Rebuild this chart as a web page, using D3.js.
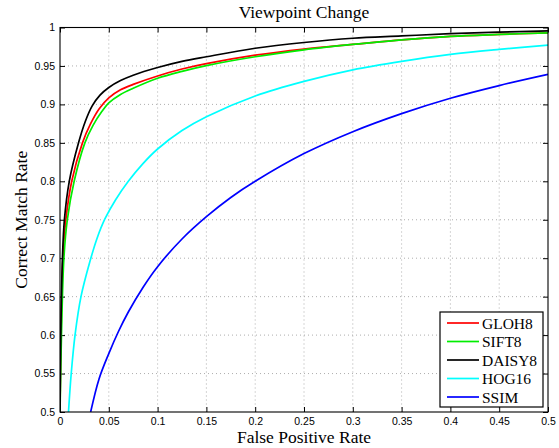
<!DOCTYPE html>
<html>
<head>
<meta charset="utf-8">
<script src="https://cdn.jsdelivr.net/npm/d3@7"></script>
<style>
html,body{margin:0;padding:0;background:#fff;}
svg{display:block;}
</style>
</head>
<body>
<svg id="chart" width="559" height="448"></svg>
<script>
// ---- data ----
const seriesNames = ["GLOH8", "SIFT8", "DAISY8", "HOG16", "SSIM"];
const seriesColors = ["#ff0000", "#00ee00", "#000000", "#00ffff", "#0000ff"];

const glohFpr = [0, 0.001, 0.003, 0.006, 0.012, 0.023, 0.031, 0.04, 0.05, 0.062, 0.075, 0.1, 0.125, 0.15, 0.2, 0.25, 0.3, 0.35, 0.4, 0.45, 0.5];
const glohTpr = [0.5, 0.6, 0.7, 0.75, 0.8, 0.85, 0.874, 0.894, 0.9085, 0.919, 0.926, 0.937, 0.946, 0.953, 0.964, 0.972, 0.978, 0.984, 0.9885, 0.991, 0.993];

const siftFpr = [0, 0.0015, 0.004, 0.0075, 0.0145, 0.0255, 0.034, 0.043, 0.05, 0.062, 0.075, 0.1, 0.125, 0.15, 0.2, 0.25, 0.3, 0.35, 0.4, 0.45, 0.5];
const siftTpr = [0.5, 0.6, 0.7, 0.75, 0.8, 0.85, 0.873, 0.891, 0.902, 0.913, 0.921, 0.934, 0.943, 0.9505, 0.962, 0.971, 0.978, 0.984, 0.9885, 0.991, 0.993];

const daisyFpr = [0, 0.0008, 0.0025, 0.0045, 0.0095, 0.019, 0.026, 0.033, 0.041, 0.05, 0.062, 0.075, 0.1, 0.125, 0.15, 0.2, 0.25, 0.3, 0.35, 0.4, 0.45, 0.5];
const daisyTpr = [0.5, 0.6, 0.7, 0.75, 0.8, 0.85, 0.878, 0.898, 0.912, 0.922, 0.931, 0.938, 0.948, 0.956, 0.962, 0.973, 0.9805, 0.986, 0.989, 0.992, 0.994, 0.9955];

const hogFpr = [0.0087, 0.0115, 0.0154, 0.0215, 0.0305, 0.038, 0.046, 0.057, 0.07, 0.085, 0.1, 0.125, 0.15, 0.2, 0.25, 0.3, 0.35, 0.4, 0.45, 0.5];
const hogTpr = [0.5, 0.55, 0.6, 0.65, 0.695, 0.726, 0.751, 0.776, 0.8, 0.823, 0.842, 0.866, 0.884, 0.911, 0.930, 0.945, 0.956, 0.965, 0.9715, 0.977];

const ssimFpr = [0.0314, 0.04, 0.05, 0.06, 0.07, 0.085, 0.1, 0.125, 0.15, 0.175, 0.2, 0.25, 0.3, 0.35, 0.4, 0.45, 0.5];
const ssimTpr = [0.5, 0.543, 0.576, 0.605, 0.63, 0.662, 0.689, 0.725, 0.754, 0.779, 0.8, 0.836, 0.8645, 0.888, 0.908, 0.9245, 0.939];

const xTicks = [0, 0.05, 0.1, 0.15, 0.2, 0.25, 0.3, 0.35, 0.4, 0.45, 0.5];
const yTicks = [0.5, 0.55, 0.6, 0.65, 0.7, 0.75, 0.8, 0.85, 0.9, 0.95, 1];

const titleText = "Viewpoint Change";
const xLabelText = "False Positive Rate";
const yLabelText = "Correct Match Rate";

// ---- layout ----
const plot = {left: 60, right: 548, top: 27.5, bottom: 412};
const serif = "'Liberation Serif','Times New Roman',serif";
const sans = "'Liberation Sans',Arial,Helvetica,sans-serif";

const svg = d3.select("#chart");
const x = d3.scaleLinear().domain([0, 0.5]).range([plot.left, plot.right]);
const y = d3.scaleLinear().domain([0.5, 1]).range([plot.bottom, plot.top]);

const series = [
  {fpr: glohFpr, tpr: glohTpr},
  {fpr: siftFpr, tpr: siftTpr},
  {fpr: daisyFpr, tpr: daisyTpr},
  {fpr: hogFpr, tpr: hogTpr},
  {fpr: ssimFpr, tpr: ssimTpr}
].map((s, i) => ({
  name: seriesNames[i],
  color: seriesColors[i],
  points: s.fpr.map((f, j) => [f, s.tpr[j]])
}));

// clip
svg.append("defs").append("clipPath").attr("id", "clip")
  .append("rect")
  .attr("x", plot.left).attr("y", plot.top)
  .attr("width", plot.right - plot.left).attr("height", plot.bottom - plot.top);

// grid
const grid = svg.append("g").attr("class", "grid");
grid.selectAll("line.vx").data(xTicks.slice(1, -1)).enter().append("line")
  .attr("x1", d => x(d)).attr("x2", d => x(d))
  .attr("y1", plot.top).attr("y2", plot.bottom)
  .attr("stroke", "#999").attr("stroke-width", 0.8).attr("stroke-dasharray", "1,3");
grid.selectAll("line.hy").data(yTicks.slice(1, -1)).enter().append("line")
  .attr("y1", d => y(d)).attr("y2", d => y(d))
  .attr("x1", plot.left).attr("x2", plot.right)
  .attr("stroke", "#999").attr("stroke-width", 0.8).attr("stroke-dasharray", "1,3");

// axes (ticks inward)
const tickLen = 5;
const axisFont = (g) => g.selectAll("text").attr("font-family", sans).attr("font-size", "10.5px").attr("fill", "#000");
const fmt = d => String(+d.toFixed(2));

const xAxis = svg.append("g").attr("transform", `translate(0,${plot.bottom})`)
  .call(d3.axisBottom(x).tickValues(xTicks).tickFormat(fmt).tickSizeInner(-tickLen).tickSizeOuter(0).tickPadding(6));
xAxis.call(axisFont);
xAxis.select(".domain").remove();

const xAxisTop = svg.append("g").attr("transform", `translate(0,${plot.top})`)
  .call(d3.axisTop(x).tickValues(xTicks).tickFormat("").tickSizeInner(-tickLen).tickSizeOuter(0));
xAxisTop.select(".domain").remove();

const yAxis = svg.append("g").attr("transform", `translate(${plot.left},0)`)
  .call(d3.axisLeft(y).tickValues(yTicks).tickFormat(fmt).tickSizeInner(-tickLen).tickSizeOuter(0).tickPadding(5));
yAxis.call(axisFont);
yAxis.select(".domain").remove();

const yAxisRight = svg.append("g").attr("transform", `translate(${plot.right},0)`)
  .call(d3.axisRight(y).tickValues(yTicks).tickFormat("").tickSizeInner(-tickLen).tickSizeOuter(0));
yAxisRight.select(".domain").remove();

svg.selectAll(".tick line").attr("stroke", "#000").attr("stroke-width", 1);

// curves
const line = d3.line().x(d => x(d[0])).y(d => y(d[1])).curve(d3.curveCatmullRom.alpha(0.5));
svg.append("g").attr("clip-path", "url(#clip)")
  .selectAll("path").data(series).enter().append("path")
  .attr("d", d => line(d.points))
  .attr("fill", "none")
  .attr("stroke", d => d.color)
  .attr("stroke-width", 1.7)
  .attr("stroke-linejoin", "round");

// frame
svg.append("rect")
  .attr("x", plot.left).attr("y", plot.top)
  .attr("width", plot.right - plot.left).attr("height", plot.bottom - plot.top)
  .attr("fill", "none").attr("stroke", "#000").attr("stroke-width", 1.1);

// title & labels
svg.append("text").attr("x", (plot.left + plot.right) / 2).attr("y", 18)
  .attr("text-anchor", "middle").attr("font-family", serif).attr("font-size", "17.5px")
  .text(titleText);
svg.append("text").attr("x", (plot.left + plot.right) / 2).attr("y", 442.5)
  .attr("text-anchor", "middle").attr("font-family", serif).attr("font-size", "17.5px")
  .text(xLabelText);
svg.append("text")
  .attr("transform", `translate(27,${(plot.top + plot.bottom) / 2}) rotate(-90)`)
  .attr("text-anchor", "middle").attr("font-family", serif).attr("font-size", "17.5px")
  .text(yLabelText);

// legend
const leg = {x: 440, y: 312, w: 103, h: 95};
const lg = svg.append("g");
lg.append("rect").attr("x", leg.x).attr("y", leg.y).attr("width", leg.w).attr("height", leg.h)
  .attr("fill", "#fff").attr("stroke", "#000").attr("stroke-width", 1.2);
const rowY = d3.scaleLinear().domain([0, seriesNames.length - 1]).range([leg.y + 11, leg.y + 85]);
const items = lg.selectAll("g.item").data(series).enter().append("g");
items.append("line")
  .attr("x1", 447).attr("x2", 479)
  .attr("y1", (d, i) => rowY(i)).attr("y2", (d, i) => rowY(i))
  .attr("stroke", d => d.color).attr("stroke-width", 1.7);
items.append("text")
  .attr("x", 482).attr("y", (d, i) => rowY(i) + 5.5)
  .attr("font-family", serif).attr("font-size", "15.5px")
  .text(d => d.name);
</script>
</body>
</html>
